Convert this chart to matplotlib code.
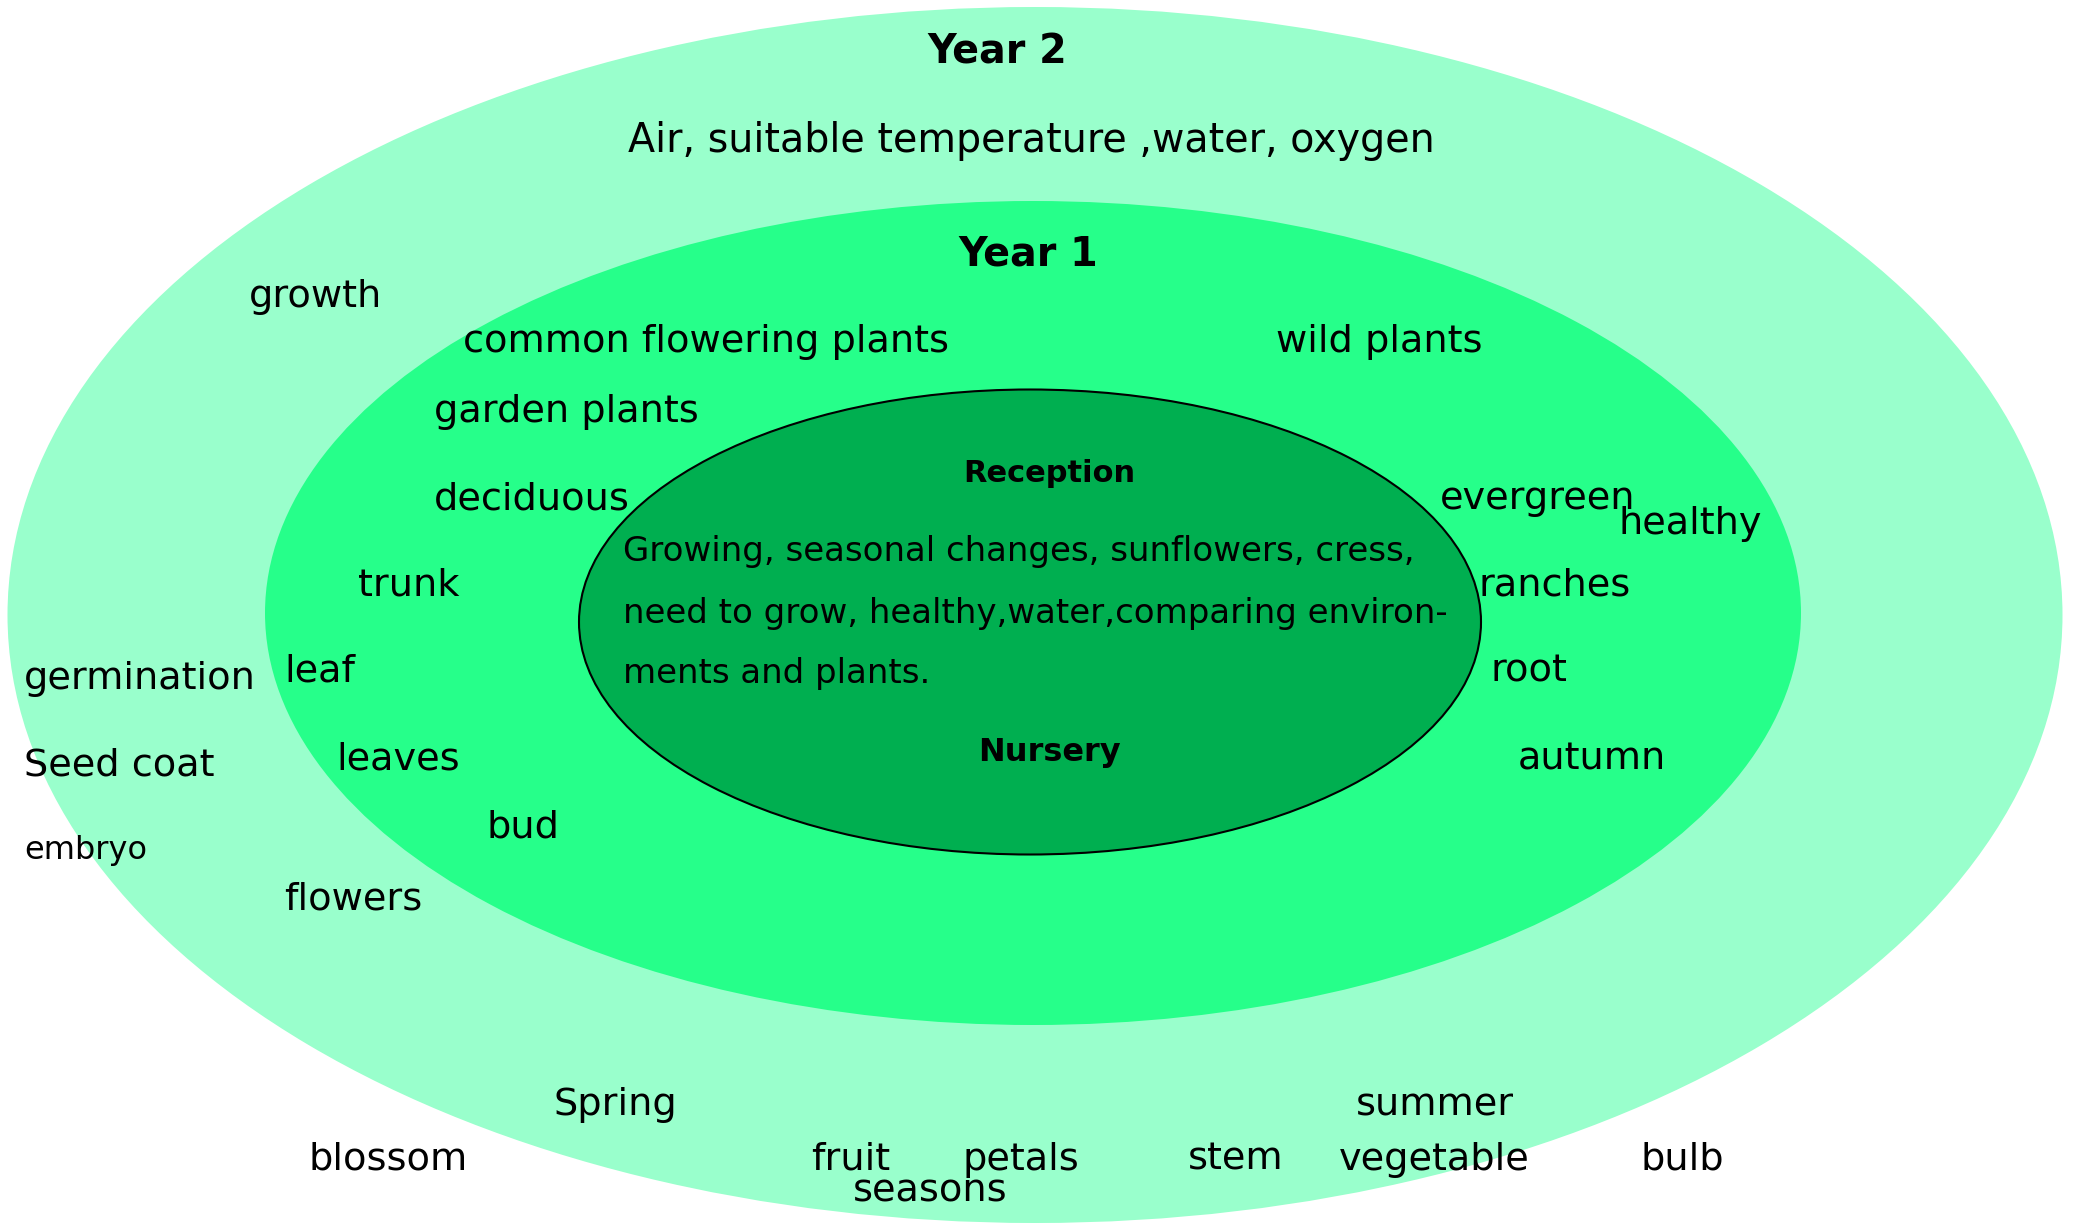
import matplotlib
matplotlib.use("Agg")
import matplotlib.pyplot as plt
from matplotlib.patches import Ellipse

W, H = 2074, 1226

# ---- data ----
ring_names = ["Year 2", "Year 1", "Reception"]
ring_colors = ["#99FFCC", "#26FF8A", "#00AF50"]

year2_labels = ["Air, suitable temperature ,water, oxygen", "growth", "germination",
                "Seed coat", "Spring", "summer", "blossom", "fruit", "petals", "stem",
                "vegetable", "bulb", "seasons", "healthy"]
year1_labels = ["common flowering plants", "wild plants", "garden plants", "deciduous",
                "evergreen", "trunk", "ranches", "leaf", "root", "leaves", "autumn",
                "bud", "flowers"]
small_labels = ["embryo"]
inner_lines = ["Growing, seasonal changes, sunflowers, cress,",
               "need to grow, healthy,water,comparing environ-",
               "ments and plants."]
inner_footer = "Nursery"

# ---- layout (pixel coordinates) ----
ellipses = [(1035, 615, 2055, 1216), (1033, 613, 1536, 824), (1030, 622, 902, 465)]
year2_pos = [(628, 138), (249, 294), (24, 676), (24, 763), (553, 1102), (1356, 1102),
             (308, 1157), (811, 1157), (962, 1157), (1188, 1157), (1339, 1157),
             (1641, 1157), (853, 1188), (1619, 521)]
year1_pos = [(463, 339), (1276, 339), (434, 409), (434, 496), (1440, 496), (358, 582),
             (1479, 582), (284, 669), (1491, 669), (336, 757), (1518, 757), (487, 825),
             (284, 897)]
small_pos = [(24, 847)]
inner_pos = [(623, 548), (623, 611), (623, 671)]
title_pos = [(997, 50), (1028, 251), (1049, 471)]
footer_pos = (1049, 750)
DY = 3  # small vertical nudge

FONT = "DejaVu Sans"
plt.rcParams["font.family"] = [FONT]

fig = plt.figure(figsize=(W / 100, H / 100), dpi=100)
ax = fig.add_axes([0, 0, 1, 1])
ax.set_xlim(0, W)
ax.set_ylim(H, 0)
ax.axis("off")

for i, ((cx, cy, w, h), c) in enumerate(zip(ellipses, ring_colors)):
    ax.add_patch(Ellipse((cx, cy), w, h, facecolor=c,
                         edgecolor="black" if i == 2 else "none",
                         linewidth=1.5 if i == 2 else 0, zorder=i + 1))

main_fs = 27.5
for t, (x, y) in zip(year2_labels + year1_labels, year2_pos + year1_pos):
    fs = 28.5 if t.startswith("Air") else main_fs
    ax.text(x, y + DY, t, fontsize=fs, ha="left", va="center", zorder=10)
for t, (x, y) in zip(small_labels, small_pos):
    ax.text(x, y + DY, t, fontsize=23, ha="left", va="center", zorder=10)
for t, (x, y) in zip(inner_lines, inner_pos):
    ax.text(x, y + DY, t, fontsize=24.5, ha="left", va="center", zorder=10)
tfs = [28.5, 28.5, 22]
for t, (x, y), fs in zip(ring_names, title_pos, tfs):
    ax.text(x, y + DY, t, fontsize=fs, fontweight="bold", ha="center", va="center", zorder=10)
ax.text(footer_pos[0], footer_pos[1] + DY, inner_footer, fontsize=23, fontweight="bold",
        ha="center", va="center", zorder=10)

fig.savefig("out.png", dpi=100)
